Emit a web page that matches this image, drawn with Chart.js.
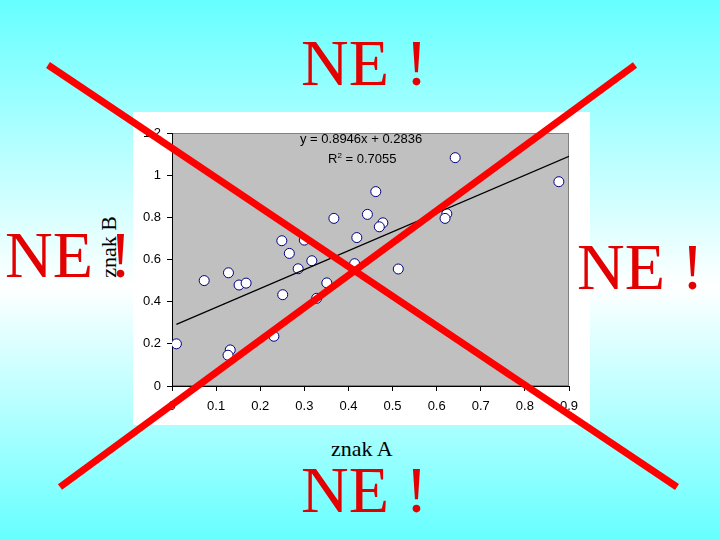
<!DOCTYPE html>
<html>
<head>
<meta charset="utf-8">
<script src="https://cdn.jsdelivr.net/npm/chart.js@4.4.1/dist/chart.umd.min.js"></script>
<style>
  html, body { margin: 0; padding: 0; }
  body {
    width: 720px; height: 540px; position: relative; overflow: hidden;
    background: linear-gradient(to bottom, #66ffff 0%, #ffffff 53%, #66ffff 100%);
  }
  #box { position: absolute; left: 133px; top: 112px; width: 457px; height: 313px; background: #ffffff; }
  .ne { position: absolute; font-family: "Liberation Serif", "Times New Roman", serif; font-size: 66px; line-height: 66px; color: #e30000; white-space: pre; }
  .eq { position: absolute; font-family: "Liberation Sans", Arial, sans-serif; font-size: 13px; line-height: 15px; color: #000; white-space: pre; }
  .axt { position: absolute; font-family: "Liberation Serif", "Times New Roman", serif; font-size: 22px; line-height: 22px; color: #000; white-space: pre; }
  #cross { position: absolute; left: 0; top: 0; pointer-events: none; }
</style>
</head>
<body>
<div id="box"><canvas id="scatterChart" width="457" height="313"></canvas></div>

<div class="eq" style="left:300px; top:131px;">y = 0.8946x + 0.2836</div>
<div class="eq" style="left:328px; top:151px;">R<sup style="font-size:8px; line-height:0;">2</sup> = 0.7055</div>

<div class="axt" style="left:109px; top:247px; transform: translate(-50%, -50%) rotate(-90deg);">znak B</div>
<div class="axt" style="left:331px; top:438px;">znak A</div>

<div class="ne" style="left:5px; top:222px;">NE !</div>

<svg id="cross" width="720" height="540">
  <line x1="48" y1="65" x2="677" y2="487" stroke="#ff0000" stroke-width="7" />
  <line x1="635" y1="65" x2="60" y2="487" stroke="#ff0000" stroke-width="7" />
</svg>

<div class="ne" style="left:301px; top:30px;">NE !</div>
<div class="ne" style="left:577px; top:234px;">NE !</div>
<div class="ne" style="left:301px; top:457px;">NE !</div>

<script>
// znak A (x) a znak B (y)
var znakA = [0.010, 0.073, 0.128, 0.152, 0.168, 0.132, 0.127, 0.231, 0.251, 0.249,
             0.266, 0.300, 0.286, 0.317, 0.351, 0.328, 0.367, 0.414, 0.419, 0.443,
             0.462, 0.478, 0.470, 0.513, 0.623, 0.619, 0.642, 0.877];
var znakB = [0.200, 0.500, 0.537, 0.479, 0.488, 0.171, 0.146, 0.236, 0.433, 0.689,
             0.629, 0.692, 0.556, 0.594, 0.489, 0.416, 0.795, 0.580, 0.704, 0.814,
             0.922, 0.774, 0.755, 0.555, 0.817, 0.795, 1.083, 0.969];

// trend line end points (y = 0.8946x + 0.2836)
var trendX = [0.01, 0.9];
var trendY = [0.292, 1.089];

var xTicks = [0, 0.1, 0.2, 0.3, 0.4, 0.5, 0.6, 0.7, 0.8, 0.9];
var yTicks = [0, 0.2, 0.4, 0.6, 0.8, 1, 1.2];

var points = znakA.map(function (x, i) { return { x: x, y: znakB[i] }; });
var trend = trendX.map(function (x, i) { return { x: x, y: trendY[i] }; });

var plotBg = {
  id: 'plotBg',
  beforeDraw: function (chart) {
    var a = chart.chartArea, ctx = chart.ctx;
    ctx.save();
    ctx.fillStyle = '#c0c0c0';
    ctx.fillRect(a.left, a.top, a.right - a.left, a.bottom - a.top);
    ctx.strokeStyle = '#808080';
    ctx.lineWidth = 1;
    ctx.strokeRect(a.left + 0.5, a.top + 0.5, a.right - a.left - 1, a.bottom - a.top - 1);
    ctx.restore();
  }
};

var tickFont = { family: '"Liberation Sans", Arial, sans-serif', size: 13 };

var ctx = document.getElementById('scatterChart').getContext('2d');
var myChart = new Chart(ctx, {
  type: 'scatter',
  data: {
    datasets: [{
      type: 'line',
      label: 'trend',
      data: trend,
      borderColor: '#000000',
      borderWidth: 1.3,
      pointRadius: 0,
      fill: false,
      order: 0
    }, {
      label: 'znak B',
      data: points,
      backgroundColor: '#ffffff',
      borderColor: '#000080',
      borderWidth: 1,
      pointRadius: 5,
      order: 1
    }]
  },
  options: {
    responsive: false,
    animation: false,
    layout: { padding: { left: 0, top: 21, right: 21, bottom: 0 } },
    plugins: {
      legend: { display: false },
      tooltip: { enabled: false }
    },
    scales: {
      x: {
        type: 'linear',
        min: 0,
        max: 0.9,
        afterBuildTicks: function (scale) {
          scale.ticks = xTicks.map(function (v) { return { value: v }; });
        },
        afterFit: function (scale) { scale.height = 39; },
        grid: { drawOnChartArea: false, drawTicks: true, tickLength: 5, color: '#000000' },
        border: { color: '#000000', width: 1 },
        ticks: {
          color: '#000000',
          font: tickFont,
          padding: 8,
          maxRotation: 0,
          callback: function (v) { return String(v); }
        }
      },
      y: {
        type: 'linear',
        min: 0,
        max: 1.2,
        afterBuildTicks: function (scale) {
          scale.ticks = yTicks.map(function (v) { return { value: v }; });
        },
        afterFit: function (scale) { scale.width = 39; },
        grid: { drawOnChartArea: false, drawTicks: true, tickLength: 5, color: '#000000' },
        border: { color: '#000000', width: 1 },
        ticks: {
          color: '#000000',
          font: tickFont,
          padding: 6,
          callback: function (v) { return String(v); }
        }
      }
    }
  },
  plugins: [plotBg]
});
</script>
</body>
</html>
